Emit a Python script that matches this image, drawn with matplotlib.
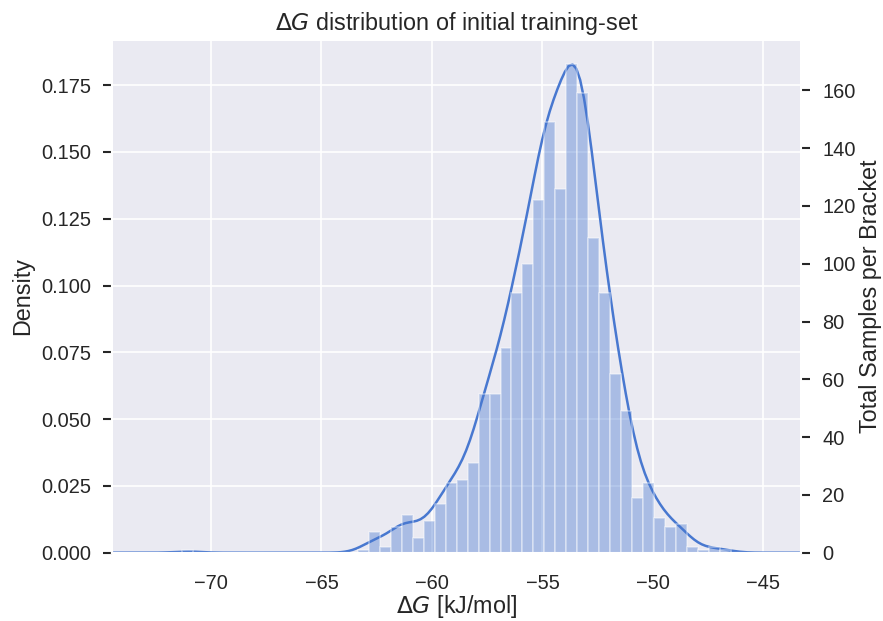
import numpy as np
import matplotlib
matplotlib.use("Agg")
import matplotlib.pyplot as plt
import seaborn as sns

# histogram of dG values, 50 brackets between the smallest and largest sample
lo, hi = -71.30, -46.47
n_bins = 50
counts = np.array([1] + [0] * 15 + [1,
                   7, 2, 9, 13, 5, 11, 17, 24, 25, 31,
                   55, 55, 71, 90, 100, 122, 149, 126, 169, 159,
                   109, 90, 62, 49, 19, 24, 12, 9, 10, 2,
                   1, 2, 1])
x_ticks = [-70, -65, -60, -55, -50, -45]

sns.set_theme(style="darkgrid", palette="muted")
plt.rcParams['font.family'] = ['Liberation Sans', 'DejaVu Sans']
plt.rcParams['xtick.labelsize'] = 12
plt.rcParams['ytick.labelsize'] = 12
plt.rcParams['axes.labelsize'] = 14
plt.rcParams['axes.titlesize'] = 14

edges = np.linspace(lo, hi, n_bins + 1)
centers = (edges[:-1] + edges[1:]) / 2
width = edges[1] - edges[0]
blue = sns.color_palette("muted")[0]

fig = plt.figure(figsize=(883 / 120, 621 / 120), dpi=120)
ax = fig.add_subplot(111)
fig.subplots_adjust(left=0.1268, right=0.9077, top=0.9356, bottom=0.110)

# density curve on the left axis
sns.kdeplot(x=centers, weights=counts, bw_method=counts.sum() ** -0.2,
            ax=ax, color=blue, linewidth=1.5)
ax.set_xlim(-74.48, -43.28)
ax.set_xticks(x_ticks)
ax.tick_params(axis='x', size=6, pad=6.5)
ax.tick_params(axis='y', left=True, size=5.5, width=1.25, pad=7)
ax.set_ylabel('Density')
ax.set_xlabel(r'$\Delta G$ [kJ/mol]', labelpad=0)
ax.set_title(r'$\Delta G$ distribution of initial training-set')

# counts per bracket on the right axis
ax2 = ax.twinx()
ax2.bar(edges[:-1], counts, width=width, align='edge', color=blue,
        alpha=0.4, edgecolor='white', linewidth=1)
ax2.grid(False)
ax2.tick_params(axis='y', right=True, size=5.5, width=1.25, pad=7)
ax2.set_ylabel('Total Samples per Bracket', labelpad=2)

fig.savefig('out.png', dpi=120)
